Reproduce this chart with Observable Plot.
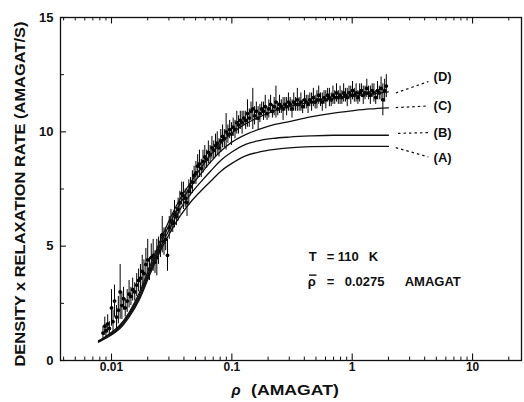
<!DOCTYPE html>
<html>
<head>
<meta charset="utf-8">
<script src="https://cdn.jsdelivr.net/npm/d3@7"></script>
<script src="https://cdn.jsdelivr.net/npm/@observablehq/plot@0.6"></script>
<style>
  html, body { margin: 0; padding: 0; background: #fff; }
</style>
</head>
<body>
<div id="chart"></div>
<script>
// ---- data ----
const curveX = [0.0078, 0.0095, 0.0115, 0.014, 0.017, 0.021, 0.025, 0.030, 0.037, 0.045, 0.055, 0.067, 0.082, 0.1, 0.13, 0.17, 0.22, 0.3, 0.45, 0.7, 1.0, 1.4, 2.0];
const curveA = [0.80, 1.05, 1.35, 1.90, 2.65, 3.80, 4.70, 5.50, 6.30, 6.90, 7.40, 7.85, 8.30, 8.62, 8.95, 9.12, 9.22, 9.30, 9.35, 9.36, 9.36, 9.36, 9.36];
const curveB = [0.82, 1.08, 1.40, 1.97, 2.75, 3.90, 4.85, 5.70, 6.60, 7.25, 7.80, 8.30, 8.78, 9.12, 9.45, 9.62, 9.71, 9.77, 9.82, 9.85, 9.85, 9.85, 9.85];
const curveC = [0.84, 1.11, 1.45, 2.03, 2.85, 4.00, 5.00, 5.90, 6.85, 7.55, 8.15, 8.70, 9.18, 9.55, 9.88, 10.12, 10.30, 10.45, 10.65, 10.82, 10.92, 11.00, 11.05];
const curveD = [0.86, 1.15, 1.50, 2.10, 2.95, 4.15, 5.15, 6.10, 7.05, 7.75, 8.40, 9.00, 9.52, 9.95, 10.35, 10.65, 10.90, 11.10, 11.30, 11.45, 11.55, 11.65, 11.75];
const curveNames = ["(A)", "(B)", "(C)", "(D)"];

const dataX = [0.0085,0.0088,0.0090,0.0093,0.0096,0.0100,0.0103,0.0106,0.0110,0.0114,0.0118,0.0122,0.0126,0.0130,0.0135,0.0140,0.0145,0.0150,0.0156,0.0162,0.0168,0.0174,0.0180,0.0186,0.0193,0.0200,0.0207,0.0214,0.0222,0.0230,0.0238,0.0246,0.0255,0.0264,0.0273,0.0282,0.0292,0.0302,0.0312,0.0323,0.0334,0.0346,0.0358,0.0370,0.0383,0.0396,0.0410,0.0424,0.0439,0.0454,0.0470,0.0486,0.0503,0.0520,0.0538,0.0557,0.0576,0.0596,0.0617,0.0638,0.0660,0.0683,0.0707,0.0731,0.0756,0.0782,0.0809,0.0837,0.0866,0.0896,0.0927,0.0959,0.0992,0.1026,0.1062,0.1099,0.1137,0.1176,0.1217,0.1259,0.1303,0.1348,0.1395,0.1443,0.1493,0.1545,0.1598,0.1654,0.1711,0.1770,0.1832,0.1895,0.1961,0.2029,0.2099,0.2172,0.2247,0.2325,0.2406,0.2489,0.2576,0.2665,0.2757,0.2853,0.2952,0.3054,0.3160,0.3270,0.3383,0.3500,0.3622,0.3747,0.3877,0.4012,0.4151,0.4295,0.4443,0.4597,0.4757,0.4922,0.5092,0.5269,0.5451,0.5640,0.5836,0.6038,0.6247,0.6464,0.6688,0.6920,0.7159,0.7408,0.7664,0.7930,0.8204,0.8489,0.8783,0.9087,0.9402,0.9728,1.006,1.041,1.077,1.115,1.153,1.193,1.235,1.278,1.322,1.368,1.415,1.464,1.515,1.568,1.622,1.678,1.737,1.797,1.860,1.920];
const dataY = [1.2,1.5,1.3,1.6,1.4,2.3,1.7,2.6,1.9,2.2,3.0,2.4,2.7,2.3,2.6,2.9,2.8,3.1,3.0,3.3,3.5,3.6,3.9,3.8,4.2,4.4,4.0,4.5,4.6,4.3,4.5,4.8,5.0,5.5,5.2,5.3,4.6,5.8,6.1,6.0,6.4,6.3,6.6,6.9,7.3,7.2,7.1,6.9,7.4,7.6,7.8,8.1,8.2,8.5,8.6,8.4,8.7,8.9,8.8,9.1,9.0,9.3,9.2,9.4,9.5,9.3,9.6,9.8,9.7,10.0,9.9,10.1,9.9,10.2,10.1,10.4,10.3,10.5,10.4,10.6,10.5,10.8,10.6,10.9,11.0,10.7,10.9,10.6,10.8,11.0,10.9,11.1,10.8,11.0,11.2,10.9,11.1,11.3,11.0,11.2,11.1,11.0,11.2,11.1,11.3,11.2,11.0,11.3,11.2,11.4,11.2,11.3,11.1,11.4,11.3,11.2,11.4,11.3,11.5,11.3,11.4,11.6,11.4,11.3,11.5,11.4,11.6,11.5,11.4,11.6,11.5,11.7,11.5,11.6,11.5,11.7,11.6,11.5,11.7,11.6,11.8,11.6,11.7,11.5,11.7,11.8,11.6,11.7,11.9,11.7,11.6,11.8,11.7,11.5,11.8,11.7,11.9,11.4,11.8,12.0];
const dataErr = [0.3,0.4,0.3,0.4,0.3,0.8,0.5,0.7,0.5,0.6,1.2,0.6,0.5,0.4,0.5,0.6,0.4,0.5,0.4,0.5,0.5,0.6,0.7,0.6,0.7,0.9,0.5,0.6,0.7,0.5,0.8,0.6,0.5,0.8,0.6,0.5,0.7,0.5,0.5,0.4,0.6,0.4,0.5,0.5,0.5,0.6,0.4,0.6,0.5,0.4,0.5,0.4,0.5,0.5,0.6,0.4,0.5,0.5,0.4,0.5,0.4,0.5,0.4,0.5,0.5,0.4,0.5,0.5,0.4,0.8,0.4,0.4,0.5,0.4,0.4,0.5,0.4,0.4,0.5,0.3,0.4,0.6,0.4,0.4,0.9,0.4,0.4,0.5,0.4,0.3,0.4,0.5,0.3,0.4,0.4,0.3,0.4,0.7,0.3,0.4,0.3,0.5,0.3,0.4,0.4,0.3,0.4,0.4,0.3,0.5,0.3,0.4,0.3,0.4,0.3,0.4,0.3,0.4,0.4,0.3,0.4,0.4,0.3,0.4,0.3,0.4,0.3,0.4,0.3,0.4,0.3,0.4,0.3,0.4,0.3,0.4,0.3,0.4,0.3,0.4,0.4,0.3,0.4,0.3,0.4,0.3,0.4,0.3,0.4,0.3,0.4,0.3,0.4,0.3,0.4,0.3,0.5,0.7,0.5,0.5];

const xTicks = [0.01, 0.1, 1, 10];
const xTickLabels = ["0.01", "0.1", "1", "10"];
const yTicks = [0, 5, 10, 15];
const yTickLabels = ["0", "5", "10", "15"];
const xMinorTicks = [0.004,0.005,0.006,0.007,0.008,0.009,0.02,0.03,0.04,0.05,0.06,0.07,0.08,0.09,0.2,0.3,0.4,0.5,0.6,0.7,0.8,0.9,2,3,4,5,6,7,8,9,20];
const yMinorTicks = [2.5, 7.5, 12.5];
const xLabelSymbol = "ρ";
const xLabelUnit = "(AMAGAT)";
const yLabel = "DENSITY x RELAXATION RATE (AMAGAT/S)";
const noteT = ["T", "=", "110", "K"];
const noteRho = ["ρ", "=", "0.0275", "AMAGAT"];

// ---- build tables ----
const curves = [curveA, curveB, curveC, curveD].flatMap((ys, k) =>
  curveX.map((x, i) => ({x, y: ys[i], name: curveNames[k]})));
const points = dataX.map((x, i) => ({x, y: dataY[i], e: dataErr[i]}));

const xDomain = [0.00377, 25.5];
const font = "'Liberation Sans', Arial, sans-serif";

const chart = Plot.plot({
  width: 524,
  height: 402,
  marginLeft: 60,
  marginRight: 3,
  marginTop: 17,
  marginBottom: 42,
  style: {fontFamily: font, background: "#fff", color: "#111"},
  x: {type: "log", domain: xDomain},
  y: {domain: [0, 15]},
  marks: [
    Plot.frame({stroke: "#111", strokeWidth: 1.3}),
    // inward ticks, bottom & top
    Plot.ruleX(xTicks, {x: d => d, y1: 0, y2: 0.28, stroke: "#111", strokeWidth: 1.1}),
    Plot.ruleX(xMinorTicks, {x: d => d, y1: 0, y2: 0.15, stroke: "#111", strokeWidth: 1}),
    Plot.ruleX(xTicks, {x: d => d, y1: 15, y2: 14.72, stroke: "#111", strokeWidth: 1.1}),
    Plot.ruleX(xMinorTicks, {x: d => d, y1: 15, y2: 14.85, stroke: "#111", strokeWidth: 1}),
    // inward ticks, left
    Plot.ruleY(yTicks, {y: d => d, x1: xDomain[0], x2: xDomain[0] * 1.12, stroke: "#111", strokeWidth: 1.1}),
    Plot.ruleY(yMinorTicks, {y: d => d, x1: xDomain[0], x2: xDomain[0] * 1.08, stroke: "#111", strokeWidth: 1}),
    Plot.axisX({ticks: xTicks, tickFormat: d => xTickLabels[xTicks.indexOf(d)], tickSize: 0, tickPadding: 2,
      fontSize: 12, fontWeight: "bold", label: null}),
    Plot.axisY({ticks: yTicks, tickFormat: d => yTickLabels[yTicks.indexOf(d)], tickSize: 0, tickPadding: 7,
      fontSize: 13, fontWeight: "bold", label: null}),
    // error bars and points
    Plot.ruleX(points, {x: "x", y1: d => d.y - d.e, y2: d => d.y + d.e, stroke: "#000", strokeWidth: 1}),
    Plot.dot(points, {x: "x", y: "y", r: 1.9, fill: "#000", stroke: "none"}),
    // model curves
    Plot.line(curves, {x: "x", y: "y", z: "name", curve: "monotone-x", stroke: "#111", strokeWidth: 1.3}),
    // leader lines
    Plot.link([
      {x1: 2.3, y1: 9.31, x2: 4.3, y2: 8.9},
      {x1: 2.4, y1: 9.93, x2: 4.4, y2: 9.97},
      {x1: 2.3, y1: 11.06, x2: 4.3, y2: 11.13},
      {x1: 2.3, y1: 11.7, x2: 4.3, y2: 12.2}
    ], {x1: "x1", y1: "y1", x2: "x2", y2: "y2", stroke: "#111", strokeWidth: 1.2, strokeDasharray: "2.5,3"}),
    Plot.text(curveNames, {x: 4.74, y: [8.88, 9.97, 11.15, 12.42], text: d => d, textAnchor: "start",
      fontSize: 13, fontWeight: "bold", fill: "#111"}),
    // annotation
    Plot.text(noteT, {x: [0.4355, 0.614, 0.759, 1.371], y: 4.55, text: d => d, textAnchor: "start",
      fontSize: 13, fontWeight: "bold", fill: "#111"}),
    Plot.text(noteRho, {x: [0.428, 0.614, 0.867, 2.728], y: 3.45, text: d => d, textAnchor: "start",
      fontSize: 13, fontWeight: "bold", fill: "#111", fontStyle: d => d === "ρ" ? "italic" : "normal"}),
    // bar over rho
    Plot.link([{x1: 0.438, x2: 0.505, y: 3.45}], {x1: "x1", x2: "x2", y1: "y", y2: "y", dy: -6.5,
      stroke: "#111", strokeWidth: 1.4}),
    // axis titles
    Plot.text([xLabelSymbol], {frameAnchor: "bottom", dy: 34, dx: -55, text: d => d, fontSize: 15,
      fontWeight: "bold", fontStyle: "italic", fill: "#111"}),
    Plot.text([xLabelUnit], {frameAnchor: "bottom", dy: 34, dx: 4, text: d => d, fontSize: 15,
      fontWeight: "bold", fill: "#111"}),
    Plot.text([yLabel], {frameAnchor: "left", dx: -40, dy: 5, rotate: -90, textAnchor: "middle",
      text: d => d, fontSize: 14, fontWeight: "bold", fill: "#111"})
  ]
});

document.getElementById("chart").appendChild(chart);

// stretch the titles to the reference lengths
d3.select(chart).selectAll("text").each(function() {
  const t = this.textContent;
  if (t === yLabel) {
    this.setAttribute("textLength", "345");
    this.setAttribute("lengthAdjust", "spacingAndGlyphs");
  } else if (t === xLabelUnit) {
    this.setAttribute("textLength", "88");
    this.setAttribute("lengthAdjust", "spacingAndGlyphs");
  }
});
</script>
</body>
</html>
